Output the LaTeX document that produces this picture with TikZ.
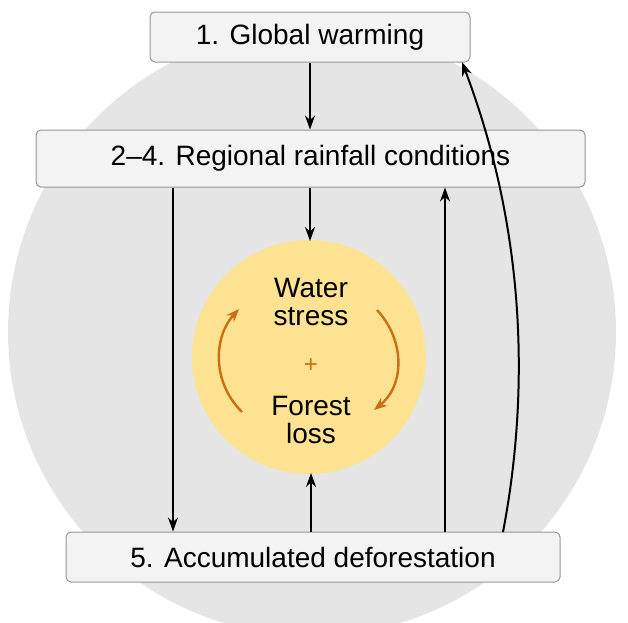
\documentclass[tikz,border=0pt]{standalone}
\usepackage{fontspec}
\setmainfont{Liberation Sans}
\usetikzlibrary{arrows.meta}
\definecolor{bggray}{RGB}{229,229,229}
\definecolor{boxfill}{RGB}{243,243,243}
\definecolor{boxdraw}{RGB}{150,150,150}
\definecolor{sun}{RGB}{253,226,146}
\definecolor{ora}{RGB}{204,110,20}
\begin{document}
\begin{tikzpicture}[x=1pt,y=-1pt,
  box/.style={draw=boxdraw,fill=boxfill,rounded corners=5pt,line width=1pt},
  lbl/.style={font=\fontsize{28}{32}\selectfont,text=black},
  arr/.style={-{Stealth[length=14pt,width=10pt]},line width=2pt},
  oarr/.style={-{Stealth[length=13pt,width=10pt]},line width=2.4pt,draw=ora}]
\useasboundingbox (0,0) rectangle (628,622);
\begin{scope}
\clip (0,0) rectangle (628,622);
\fill[bggray] (312,332) circle (304);
\end{scope}
\node[box,minimum width=320pt,minimum height=50pt] (b1) at (310,37) {};
\node[lbl] at (b1) {1. Global warming};
\node[box,minimum width=549pt,minimum height=57pt] (b2) at (310.5,158.5) {};
\node[lbl] at (b2) {2–4. Regional rainfall conditions};
\node[box,minimum width=494pt,minimum height=50pt] (b5) at (313,557) {};
\node[lbl] at (b5) {5. Accumulated deforestation};
\fill[sun] (309,357) circle (117);
\node[circle,minimum size=234pt] (c) at (309,357) {};
\node[lbl,align=center] (ws) at (311,302) {Water\\[-4pt]stress};
\node[lbl,align=center] (fl) at (311,420) {Forest\\[-4pt]loss};
\node[text=ora,font=\fontsize{24}{26}\selectfont] (pl) at (311,366) {+};
\draw[arr] (b1.south -| 310,0) -- (b2.north -| 310,0);
\draw[arr] (b2.south -| 310,0) -- (310,241);
\draw[arr] (b2.south -| 173,0) -- (b5.north -| 173,0);
\draw[arr] (b5.north -| 311,0) -- (311,473);
\draw[arr] (b5.north -| 445,0) -- (b2.south -| 445,0);
\coordinate (cs) at (503,532);
\draw[arr] (cs) .. controls (532,380) and (522,220) .. (462,62);
\draw[oarr] (242,412) .. controls (210,380) and (215,335) .. (239,309);
\draw[oarr] (377,310) .. controls (405,340) and (405,385) .. (374,410);
\end{tikzpicture}
\end{document}
